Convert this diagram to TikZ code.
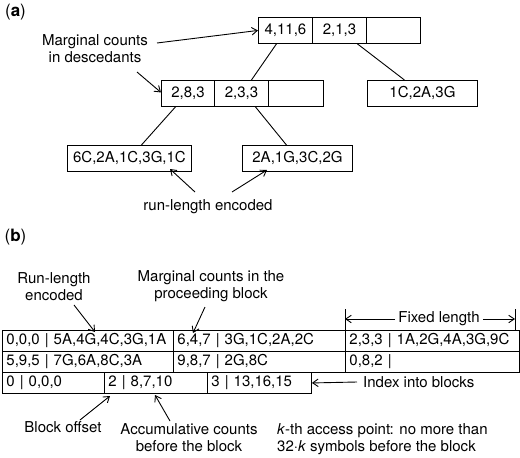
\documentclass[tikz,border=0pt]{standalone}
\usepackage{fontspec}
\setmainfont{TeX Gyre Heros}
\usetikzlibrary{arrows.meta,calc}
\begin{document}
\begin{tikzpicture}[x=1pt,y=-1pt,
  font=\fontsize{15}{17}\selectfont,
  cell/.style={draw, line width=0.9pt, minimum height=26pt, minimum width=#1, inner sep=0pt, anchor=north west},
  tcell/.style={draw, line width=0.9pt, minimum height=21pt, inner xsep=4pt, inner ysep=0pt, text width=#1, align=left, anchor=north west},
  lbl/.style={inner sep=0pt, align=center},
  plab/.style={inner sep=0pt, font=\fontsize{17}{20}\selectfont},
  arr/.style={-{Straight Barb[length=5.5pt,width=7.5pt]}, line width=0.9pt},
  conn/.style={line width=0.9pt}]
\useasboundingbox (0,0) rectangle (520,458);

% ---------- (a) ----------
\node[plab] (pa) at (15.5,12) {(\textbf{a})};
\node[cell=54pt] (t1) at (258,17) {4,11,6};
\node[cell=54pt] (t2) at (312,17) {2,1,3};
\node[cell=54pt] (t3) at (366,17) {};
\node[cell=53pt] (m1) at (161,80) {2,8,3};
\node[cell=54pt] (m2) at (214,80) {2,3,3};
\node[cell=55pt] (m3) at (268,80) {};
\node[cell=110pt] (r1) at (367,80) {1C,2A,3G};
\node[cell=124pt] (l1) at (67,145) {6C,2A,1C,3G,1C};
\node[cell=110pt] (l2) at (242,145) {2A,1G,3C,2G};

\draw[conn] ([xshift=-9pt]t1.south) -- ([xshift=10pt]m2.north);
\draw[conn] ([xshift=18pt]t2.south) -- ([xshift=-18pt]r1.north);
\draw[conn] ([xshift=-12.5pt]m1.south) -- ([xshift=12pt]l1.north);
\draw[conn] ([xshift=14pt]m2.south) -- ([xshift=-11pt]l2.north);

\node[lbl] (mc) at (95,48.5) {Marginal counts\\in descedants};
\coordinate (mcA) at (157,43);
\coordinate (mcB) at (137,72);
\draw[arr] (mcA) -- (t1.west);
\draw[arr] (mcB) -- ([yshift=1pt]m1.west);

\node[lbl] (rl) at (208,207) {run-length encoded};
\coordinate (rlA) at (195,192);
\coordinate (rlB) at (232,192);
\coordinate (rlAt) at (170,169);
\coordinate (rlBt) at (267,170);
\draw[arr] (rlA) -- (rlAt);
\draw[arr] (rlB) -- (rlBt);

% ---------- (b) ----------
\node[plab] (pb) at (15.5,237) {(\textbf{b})};

\node[tcell=163pt] (a1) at (2,330) {0,0,0 | 5A,4G,4C,3G,1A};
\node[tcell=164pt] (a2) at (173,330) {6,4,7 | 3G,1C,2A,2C};
\node[tcell=166pt] (a3) at (345,330) {2,3,3 | 1A,2G,4A,3G,9C};
\node[tcell=163pt] (b1) at (2,351) {5,9,5 | 7G,6A,8C,3A};
\node[tcell=164pt] (b2) at (173,351) {9,8,7 | 2G,8C};
\node[tcell=166pt] (b3) at (345,351) {0,8,2 |};
\node[tcell=94pt] (c1) at (2,372) {0 | 0,0,0};
\node[tcell=95pt] (c2) at (104,372) {2 | 8,7,10};
\node[tcell=96pt] (c3) at (207,372) {3 | 13,16,15};

\node[lbl] (rle) at (54,286.5) {Run-length\\encoded};
\coordinate (rleA) at (74,305);
\coordinate (rleT) at (95,332);
\draw[arr] (rleA) -- (rleT);

\node[lbl] (mcp) at (211,286.5) {Marginal counts in the\\proceeding block};
\coordinate (mcpA) at (205,307);
\coordinate (mcpT) at (193,333);
\draw[arr] (mcpA) -- (mcpT);

\coordinate (fl1) at (345,319);
\coordinate (fl2) at (515,319);
\draw[conn] (345,309) -- (345,330);
\draw[conn] (515,309) -- (515,330);
\node[lbl] (fl) at (439,319) {Fixed length};
\draw[arr] ([xshift=-3pt]fl.west) -- (fl1);
\draw[arr] ([xshift=3pt]fl.east) -- (fl2);

\node[lbl, anchor=west] (ib) at (363,382) {Index into blocks};
\coordinate (ibA) at (357,382);
\draw[arr] (ibA) -- (c3.east);

\node[lbl] (bo) at (63,427) {Block offset};
\coordinate (boA) at (80,420);
\coordinate (boT) at (110,396);
\draw[arr] (boA) -- (boT);

\node[lbl] (ac) at (189,438) {Accumulative counts\\before the block};
\coordinate (acA) at (170,421);
\coordinate (acT) at (155,395);
\draw[arr] (acA) -- (acT);

\node[lbl, align=left, anchor=west] (kth) at (277,439) {\textit{k}-th access point: no more than\\32·\textit{k} symbols before the block};
\end{tikzpicture}
\end{document}
